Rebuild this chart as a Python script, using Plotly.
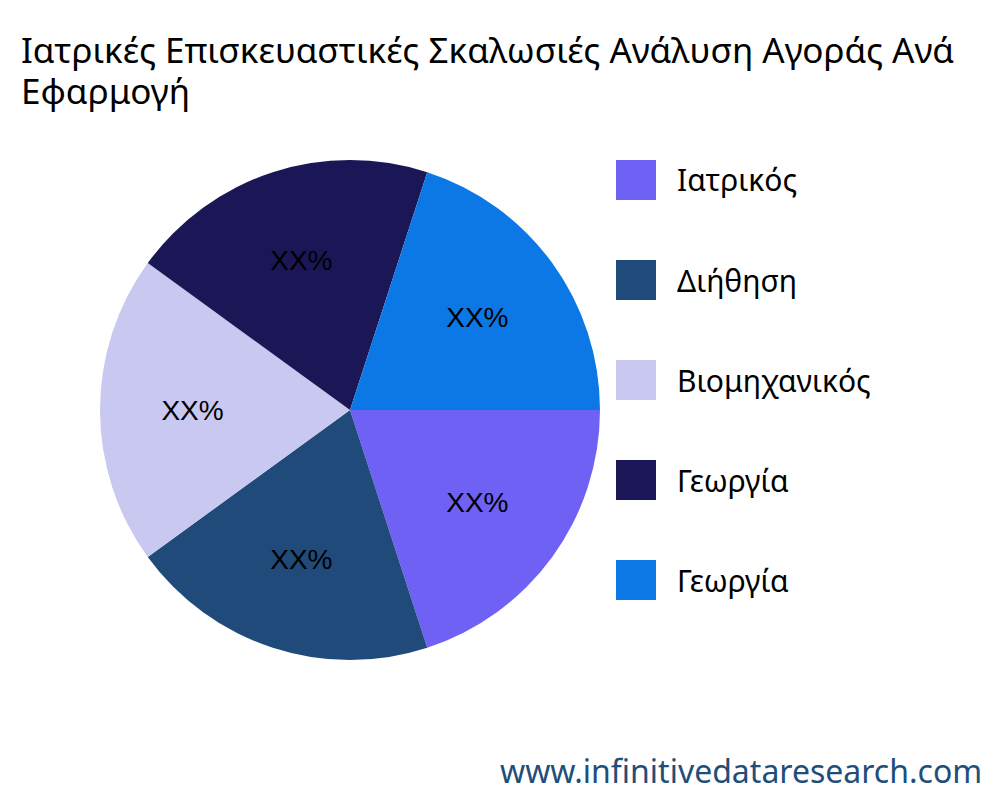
import plotly.graph_objects as go

labels = ["Ιατρικός", "Διήθηση", "Βιομηχανικός", "Γεωργία", "Γεωργία "]
values = [20, 20, 20, 20, 20]
texts = ["XX%", "XX%", "XX%", "XX%", "XX%"]
colors = ["#6f61f4", "#1f4a7a", "#c8c8f0", "#1b1656", "#0b78e6"]
title_lines = ["Ιατρικές Επισκευαστικές Σκαλωσιές Ανάλυση Αγοράς Ανά", "Εφαρμογή"]

W, H = 1000, 800
fig = go.Figure(go.Pie(
    labels=labels, values=values, text=texts, textinfo="text",
    textposition="inside", insidetextorientation="horizontal",
    textfont=dict(family="Liberation Sans, Arial", size=28, color="black"),
    marker=dict(colors=colors), sort=False, direction="clockwise", rotation=90,
    domain=dict(x=[0.092, 0.592], y=[0.185, 0.81]), hoverinfo="label", showlegend=False))

ann = []
for i, t in enumerate(title_lines):
    ann.append(dict(text=t, x=12 / W, y=1 - (42 + 40 * i) / H, xref="paper", yref="paper",
                    xanchor="left", yanchor="middle", showarrow=False, borderpad=0,
                    font=dict(size=35, color="black")))
shapes = []
for i, (lab, c) in enumerate(zip(labels, colors)):
    y0 = 1 - (152 + 100 * i) / H
    shapes.append(dict(type="rect", xref="paper", yref="paper", x0=0.608, x1=0.648,
                       y0=y0 - 40 / H, y1=y0, fillcolor=c, line=dict(width=0)))
    ann.append(dict(text=lab.strip(), x=0.668, y=y0 - 20 / H, xref="paper", yref="paper",
                    xanchor="left", yanchor="middle", showarrow=False, borderpad=0,
                    font=dict(size=30, color="black")))
ann.append(dict(text="www.infinitivedataresearch.com", x=0.975, y=1 - 762 / H,
                xref="paper", yref="paper", xanchor="right", yanchor="middle",
                showarrow=False, borderpad=0, font=dict(size=32, color="#1f4e79")))

fig.update_layout(
    width=W, height=H, margin=dict(l=0, r=0, t=0, b=0),
    paper_bgcolor="white", font=dict(family="Noto Sans"),
    shapes=shapes, annotations=ann)
fig.write_html("out.html")
